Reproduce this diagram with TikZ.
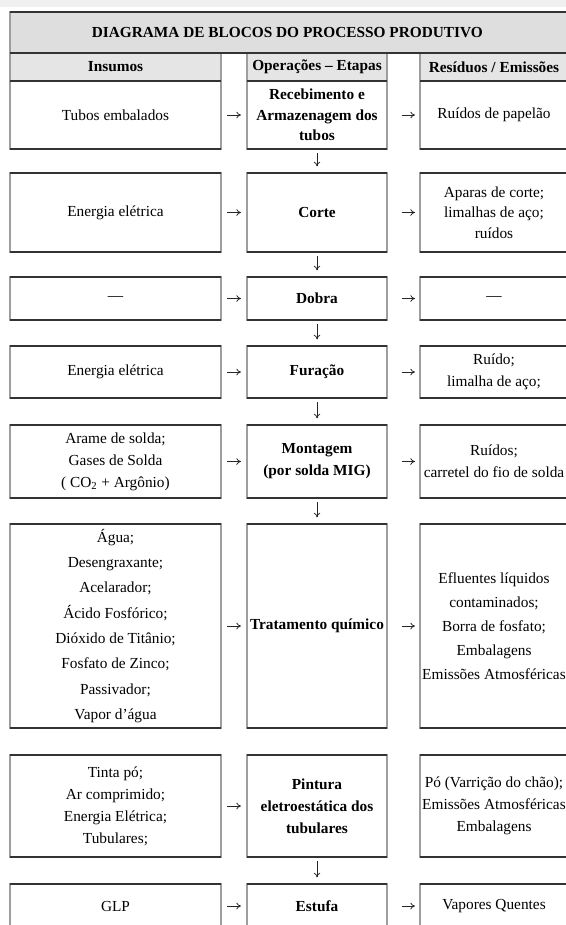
\documentclass[tikz,border=0pt]{standalone}
\usepackage{fontspec}
\setmainfont{Liberation Serif}
\usetikzlibrary{arrows.meta}
\begin{document}
\begin{tikzpicture}[x=0.75pt,y=-0.75pt,
  cell/.style={draw=black!38, line width=1.5pt, inner sep=0pt, outer sep=0pt, align=center,
    rectangle, anchor=center, font=\fontsize{11.5}{16.5}\selectfont},
  span/.style n args={4}{minimum width={(#3-#1)*0.75pt}, minimum height={(#4-#2)*0.75pt},
    at={({(#1+#3)/2},{(#2+#4)/2})}},
  opcell/.style={cell, font=\fontsize{11.5}{16.5}\selectfont\bfseries},
  headcell/.style={cell, fill=black!10, font=\fontsize{11.5}{14}\selectfont\bfseries},
  rim/.style={draw=black!80, line width=1.1pt},
  flow/.style={-{To[length=3.5pt,width=5pt]}, line width=0.6pt, draw=black!85},
  hin/.style={flow, shorten <=4.5pt, shorten >=4.5pt},
  hout/.style={flow, shorten <=11pt, shorten >=3.75pt},
  vdown/.style={flow, shorten <=3pt, shorten >=5pt},
]
\useasboundingbox (0,0) rectangle (566,925);
\clip (0,0) rectangle (566,925);
\fill[black!6] (0,0) rectangle (566,7);

% title and headers
\node[headcell, fill=black!13, span={10}{12}{570}{53}] (title) {\hspace*{-4pt}DIAGRAMA DE BLOCOS DO PROCESSO PRODUTIVO};
\node[headcell, span={10}{53}{221}{81}] (hin) {Insumos};
\node[headcell, span={247}{53}{387}{81}] (hop) {Operações – Etapas};
\node[headcell, span={420}{53}{568}{81}] (hout) {Resíduos / Emissões};

% row 1
\node[cell, span={10}{81}{221}{149}] (in1) {Tubos embalados};
\node[opcell, font=\fontsize{11.5}{15.4}\selectfont\bfseries, span={247}{81}{387}{149}] (op1) {Recebimento e\\Armazenagem dos\\tubos};
\node[cell, span={420}{81}{568}{149}] (out1) {Ruídos de papelão};

% row 2
\node[cell, span={10}{173}{221}{252}] (in2) {Energia elétrica};
\node[opcell, span={247}{173}{387}{252}] (op2) {Corte};
\node[cell, font=\fontsize{11.5}{15.4}\selectfont, span={420}{173}{568}{252}] (out2) {Aparas de corte;\\limalhas de aço;\\ruídos};

% row 3
\node[cell, span={10}{277}{221}{320}] (in3) {—};
\node[opcell, span={247}{277}{387}{320}] (op3) {Dobra};
\node[cell, span={420}{277}{568}{320}] (out3) {—};

% row 4
\node[cell, span={10}{346}{221}{398}] (in4) {Energia elétrica};
\node[opcell, span={247}{346}{387}{398}] (op4) {Furação};
\node[cell, span={420}{346}{568}{398}] (out4) {Ruído;\\limalha de aço;};

% row 5
\node[cell, span={10}{425}{221}{498}] (in5) {Arame de solda;\\Gases de Solda\\( CO\textsubscript{2} + Argônio)};
\node[opcell, span={247}{425}{387}{498}] (op5) {Montagem\\(por solda MIG)};
\node[cell, span={420}{425}{568}{498}] (out5) {Ruídos;\\carretel do fio de solda};

% row 6
\node[cell, font=\fontsize{11.5}{19}\selectfont, span={10}{524}{221}{728}] (in6) {Água;\\Desengraxante;\\Acelarador;\\Ácido Fosfórico;\\Dióxido de Titânio;\\Fosfato de Zinco;\\Passivador;\\Vapor d'água};
\node[opcell, span={247}{524}{387}{728}] (op6) {Tratamento químico};
\node[cell, font=\fontsize{11.5}{18}\selectfont, span={420}{524}{568}{728}] (out6) {Efluentes líquidos\\contaminados;\\Borra de fosfato;\\Embalagens\\Emissões Atmosféricas};

% row 7
\node[cell, span={10}{755}{221}{857}] (in7) {Tinta pó;\\Ar comprimido;\\Energia Elétrica;\\Tubulares;};
\node[opcell, span={247}{755}{387}{857}] (op7) {Pintura\\eletroestática dos\\tubulares};
\node[cell, span={420}{755}{568}{857}] (out7) {Pó (Varrição do chão);\\Emissões Atmosféricas\\Embalagens};

% row 8 (cut by the page edge)
\node[cell, span={10}{884}{221}{928}] (in8) {GLP};
\node[opcell, span={247}{884}{387}{928}] (op8) {Estufa};
\node[cell, span={420}{884}{568}{928}] (out8) {Vapores Quentes};

% darker top and bottom rims
\foreach \n in {title,hin,hop,hout,in1,op1,out1,in2,op2,out2,in3,op3,out3,in4,op4,out4,in5,op5,out5,in6,op6,out6,in7,op7,out7,in8,op8,out8}{
  \draw[rim] (\n.north west) -- (\n.north east) (\n.south west) -- (\n.south east);
}

% horizontal flows
\foreach \i in {1,...,8}{ \draw[hin] (in\i) -- (op\i); }
\foreach \i in {1,2,3,4,5,6,8}{ \draw[hout] (op\i) -- (out\i); }

% vertical flows
\draw[vdown] (op1) -- (op2);
\draw[vdown] (op2) -- (op3);
\draw[vdown] (op3) -- (op4);
\draw[vdown] (op4) -- (op5);
\draw[vdown] (op5) -- (op6);
\draw[vdown] (op7) -- (op8);
\end{tikzpicture}
\end{document}
